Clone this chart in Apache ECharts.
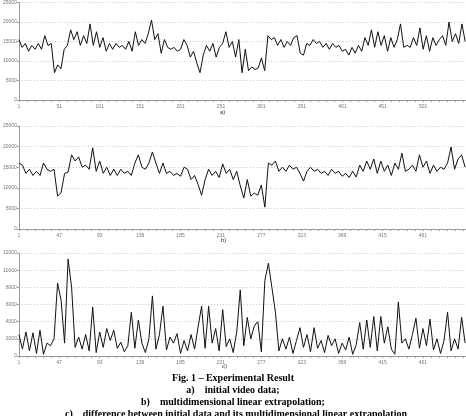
<!DOCTYPE html>
<html>
<head>
<meta charset="utf-8">
<script src="https://cdn.jsdelivr.net/npm/echarts@6/dist/echarts.min.js"></script>
<style>
html, body { margin: 0; padding: 0; background: #fff; }
#main { width: 466px; height: 416px; }
</style>
</head>
<body>
<div id="main"></div>
<script>
// a) initial video data, one value every 4 frames
var initialData = [
  15500, 13500, 14500, 12500, 14000, 13000, 14500, 13000, 16500, 14000,
  14500, 7000, 9000, 8000, 13000, 14000, 18000, 15500, 17500, 14000,
  16500, 14500, 19500, 14000, 17500, 13500, 16000, 12500, 14500, 13000,
  14500, 13500, 14000, 13000, 15000, 12500, 17500, 14000, 15500, 14500,
  17000, 20500, 15500, 17000, 12000, 15500, 13500, 13000, 13500, 12500,
  13000, 15500, 14000, 11000, 12500, 9500, 7000, 11500, 14000, 12500,
  14500, 11000, 13500, 14500, 17500, 13500, 15000, 11000, 15500, 7000,
  13000, 7500, 8500, 7800, 8200, 10800, 7500, 16500, 15500, 16000,
  14000, 15500, 13500, 15000, 14000, 16000, 16500, 12000, 11500, 14500,
  14000, 15500, 14500, 15000, 13500, 14500, 13000, 14500, 13500, 14000,
  12500, 13000, 11500, 13500, 12000, 14000, 12500, 16000, 14000, 18000,
  13500, 17500, 14000, 16500, 12500, 16000, 13500, 15500, 19500, 13500,
  14000, 13500, 16000, 14000, 18500, 13000, 16500, 12500, 16000, 14000,
  15500, 16500, 14000, 20000, 15000, 17000, 14500, 19500, 15000
];

// b) multidimensional linear extrapolation
var extrapolated = [
  16000, 15500, 13500, 14500, 13000, 14000, 13000, 16000, 14500, 14000,
  14500, 8000, 8800, 13500, 13800, 18000, 16500, 17500, 15000, 15500,
  14500, 19700, 14000, 16500, 13500, 15000, 13000, 14500, 13000, 14500,
  13500, 14000, 13000, 16000, 18000, 15000, 14500, 16000, 18700, 16000,
  13500, 16000, 13500, 14000, 13000, 13500, 12800, 15000, 14500, 12000,
  13000, 10800, 8200, 12000, 14500, 13000, 14000, 12500, 15800, 13500,
  14500, 12000, 14000, 10500, 7500, 12000, 8000, 8700, 8200, 10700,
  5300, 16000, 15500, 16500, 14000, 15000, 14000, 15500, 14500, 15000,
  13500, 11600, 14000, 15000, 14000, 14500, 13500, 14000, 13000, 14500,
  13500, 14000, 12800, 13500, 12500, 14000, 12600, 15500, 14000, 16500,
  14500, 17000, 13500, 16500, 14000, 15500, 13000, 16000, 14500, 18400,
  14000, 14500, 15500, 14000, 18000, 15000, 16500, 13500, 15500, 14000,
  15000, 14500, 16000, 19900, 14500, 17000, 18000, 15000
];

// c) difference between initial data and extrapolation
var difference = [
  2500, 800, 2800, 600, 2700, 300, 3000, 200, 1500, 1200,
  2000, 8500, 6500, 1500, 11300, 8000, 1000, 2200, 800, 2500,
  600, 5700, 400, 2800, 1000, 3200, 1800, 3000, 900, 1600,
  500, 1200, 5100, 900, 4200, 1500, 400, 2000, 7000, 800,
  2500, 5800, 700, 2200, 1500, 2600, 300, 1800, 600, 2500,
  800, 3400, 5800, 900, 5800, 1500, 3200, 600, 5400, 1100,
  2000, 400, 2800, 7700, 1200, 4500, 2000, 3500, 4000, 500,
  8800, 10800, 8000, 5100, 600, 2000, 800, 2200, 300, 1800,
  3300, 1000, 2500, 500, 3300, 900, 1800, 400, 2400, 1200,
  2000, 300, 1500, 700, 2200, 200, 1300, 3900, 800, 4200,
  1000, 4600, 600, 4600, 1500, 3400, 800, 200, 6300, 1500,
  2000, 800, 2500, 4400, 900, 3200, 1200, 4300, 700, 2000,
  300, 1800, 5100, 600, 2000, 800, 4500, 1500
];

var frameStep = 4;
var labelsA = [1, 51, 101, 151, 201, 251, 301, 351, 401, 451, 501];
var labelsB = [1, 47, 93, 139, 185, 231, 277, 323, 369, 415, 461];
var captions = [
  'Fig. 1 \u2013 Experimental Result',
  'a)    initial video data;',
  'b)    multidimensional linear extrapolation;',
  'c)    difference between initial data and its multidimensional linear extrapolation'
];

function pairs(arr) {
  return arr.map(function (v, i) { return [1 + i * frameStep, v]; });
}
function ticks(max, step) {
  var out = [];
  for (var t = 1; t <= max; t += step) out.push(t);
  return out;
}

var grids = [
  { left: 12, right: 0, top: 0, height: 100 },
  { left: 12, right: 0, top: 126, height: 103 },
  { left: 12, right: 0, top: 253, height: 103 }
];

var axisGray = '#9a9a9a';
var labelStyle = { fontSize: 5, color: '#777', fontFamily: 'Arial' };

function xAxis(idx, max, labels, tickStep) {
  return {
    type: 'value', gridIndex: idx, min: 1, max: max,
    axisLine: { lineStyle: { color: axisGray, width: 1 } },
    axisTick: { show: true, length: 2, customValues: ticks(max, tickStep), lineStyle: { color: axisGray } },
    axisLabel: Object.assign({ customValues: labels, margin: 4 }, labelStyle),
    splitLine: { show: false }
  };
}
function yAxis(idx, max, interval) {
  return {
    type: 'value', gridIndex: idx, min: 0, max: max, interval: interval,
    axisLine: { show: true, lineStyle: { color: axisGray, width: 1 } },
    axisTick: { show: true, length: 2, lineStyle: { color: axisGray } },
    axisLabel: Object.assign({ margin: 2, formatter: function (v) { return String(v); } }, labelStyle),
    splitLine: { show: true, lineStyle: { color: '#c8c8c8', type: [1, 2], width: 1 } }
  };
}
function lineSeries(idx, data) {
  return {
    type: 'line', xAxisIndex: idx, yAxisIndex: idx, data: pairs(data),
    showSymbol: false, lineStyle: { color: '#111', width: 1 }
  };
}

var myChart = echarts.init(document.getElementById('main'));
myChart.setOption({
  animation: false,
  backgroundColor: '#fff',
  grid: grids,
  xAxis: [
    xAxis(0, 554, labelsA, 10),
    xAxis(1, 510, labelsB, 9.2),
    xAxis(2, 510, labelsB, 9.2)
  ],
  yAxis: [
    yAxis(0, 25000, 5000),
    yAxis(1, 25000, 5000),
    yAxis(2, 12000, 2000)
  ],
  series: [
    lineSeries(0, initialData),
    lineSeries(1, extrapolated),
    lineSeries(2, difference)
  ],
  graphic: [
    { type: 'text', left: 220, top: 109, style: { text: 'a)', font: '6px Arial', fill: '#333' } },
    { type: 'text', left: 221, top: 237, style: { text: 'b)', font: '6px Arial', fill: '#333' } },
    { type: 'text', left: 222, top: 363, style: { text: 'c)', font: '6px Arial', fill: '#333' } },
    { type: 'text', x: 233, y: 378, style: { text: captions[0], font: 'bold 10px "Liberation Serif"', fill: '#000', align: 'center', verticalAlign: 'middle' } },
    { type: 'text', x: 233, y: 390, style: { text: captions[1], font: 'bold 10px "Liberation Serif"', fill: '#000', align: 'center', verticalAlign: 'middle' } },
    { type: 'text', x: 233, y: 402, style: { text: captions[2], font: 'bold 10px "Liberation Serif"', fill: '#000', align: 'center', verticalAlign: 'middle' } },
    { type: 'text', x: 236, y: 414, style: { text: captions[3], font: 'bold 10px "Liberation Serif"', fill: '#000', align: 'center', verticalAlign: 'middle' } }
  ]
});
</script>
</body>
</html>
